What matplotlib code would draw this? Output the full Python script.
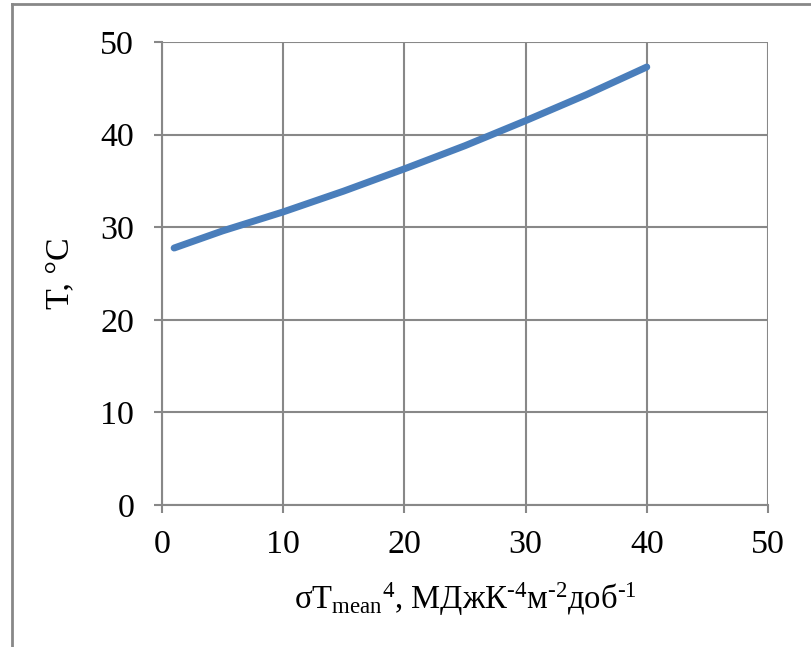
import matplotlib
matplotlib.use('Agg')
import matplotlib.pyplot as plt
from matplotlib.lines import Line2D

plt.rcParams['font.family'] = ['Liberation Serif', 'DejaVu Serif']
plt.rcParams['mathtext.fontset'] = 'custom'
plt.rcParams['mathtext.rm'] = 'Liberation Serif'
plt.rcParams['mathtext.it'] = 'Liberation Serif:italic'
plt.rcParams['mathtext.bf'] = 'Liberation Serif:bold'

# values
sigma_t4 = [1, 5, 10, 15, 20, 25, 30, 35, 40]
temp = [27.75, 29.6, 31.65, 33.9, 36.3, 38.8, 41.5, 44.3, 47.3]
ticks = [0, 10, 20, 30, 40, 50]

grid_col = '#888888'

fig = plt.figure(figsize=(8.12, 6.47), dpi=100)
ax = fig.add_axes([0.1995, 0.2195, 0.7463, 0.7156])

ax.plot(sigma_t4, temp, color='#4a7ebb', linewidth=5, solid_capstyle='round')

ax.set_xlim(0, 50)
ax.set_ylim(0, 50)
ax.set_xticks(ticks)
ax.set_yticks(ticks)
ax.grid(True, color=grid_col, linewidth=1.5)
ax.set_axisbelow(True)
for s in ['top', 'right']:
    ax.spines[s].set_visible(False)
for s in ['left', 'bottom']:
    ax.spines[s].set_color(grid_col)
    ax.spines[s].set_linewidth(1.5)
ax.tick_params(direction='out', length=6, width=1.5, color=grid_col,
               labelsize=24.5)
ax.tick_params(axis='y', pad=14)
ax.tick_params(axis='x', pad=12)

ax.set_ylabel('T, °C', fontsize=24.5, labelpad=18)
ax.set_xlabel('σT$_{\\rm mean}$$^{\\rm 4}$, МДжК$^{\\rm \u20104}$м$^{\\rm \u20102}$доб$^{\\rm \u20101}$',
              fontsize=23.5, labelpad=14)

# outer frame (left and top edges visible)
fig.add_artist(Line2D([0.0148, 0.0148], [0, 0.994], transform=fig.transFigure,
                      color=grid_col, linewidth=2))
fig.add_artist(Line2D([0.0148, 1.0], [0.994, 0.994], transform=fig.transFigure,
                      color=grid_col, linewidth=2))

fig.savefig('out.png', dpi=100)
